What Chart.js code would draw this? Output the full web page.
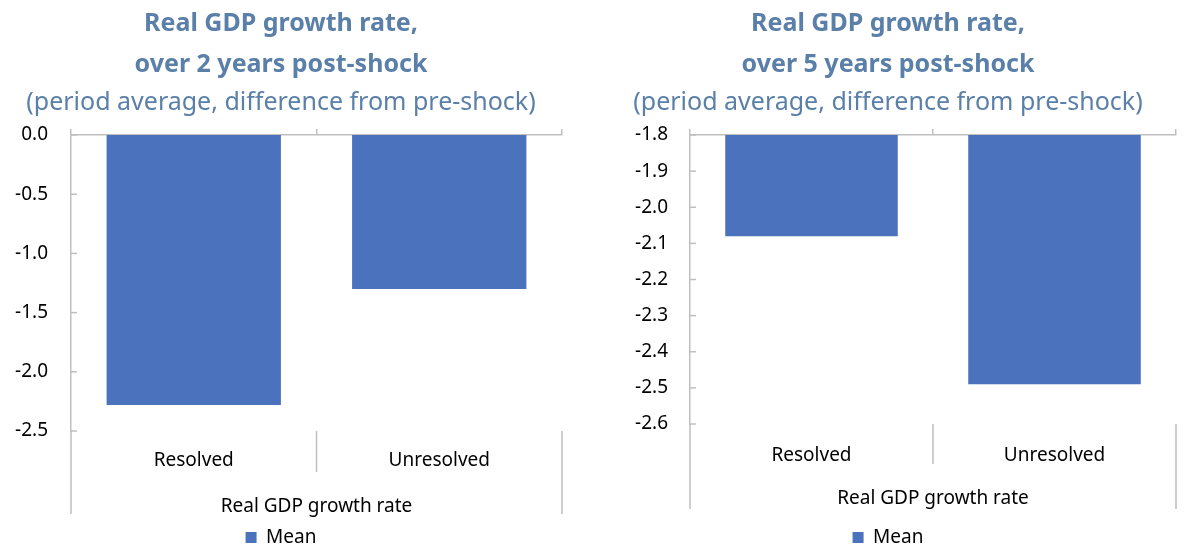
<!DOCTYPE html>
<html>
<head>
<meta charset="utf-8">
<script src="https://cdn.jsdelivr.net/npm/chart.js@4"></script>
<style>
  body { margin: 0; background: #fff; }
  .row { display: flex; width: 1200px; height: 554px; }
  .box { width: 600px; height: 554px; position: relative; }
</style>
</head>
<body>
<div class="row">
  <div class="box"><canvas id="chartLeft"></canvas></div>
  <div class="box"><canvas id="chartRight"></canvas></div>
</div>
<script>
const categories = ["Resolved", "Unresolved"];
const groupLabel = "Real GDP growth rate";
const seriesName = "Mean";
const twoYearValues = [-2.28, -1.30];
const fiveYearValues = [-2.08, -2.49];
const twoYearAxis = [-2.5, 0.0, 0.5];   // min, max, step
const fiveYearAxis = [-2.6, -1.8, 0.1];
const subtitleText = "(period average, difference from pre-shock)";

const barColor = "#4a72bd";
const titleColor = "#5a7fa8";
const axisColor = "#bfbfbf";
const fontFamily = "'Noto Sans', 'Open Sans', sans-serif";

const decorPlugin = {
  id: "decor",
  afterDraw(chart, args, opts) {
    const { ctx, chartArea } = chart;
    const x = chart.scales.x;
    const y = chart.scales.y;
    const b = chartArea.bottom;
    ctx.save();
    ctx.strokeStyle = axisColor;
    ctx.lineWidth = 1.5;
    // small inside tick marks on the value axis
    y.ticks.forEach((t, i) => {
      const py = y.getPixelForTick(i);
      ctx.beginPath();
      ctx.moveTo(chartArea.left, py);
      ctx.lineTo(chartArea.left + 6, py);
      ctx.stroke();
    });
    // category dividers below the plot
    const mid = (x.getPixelForValue(0) + x.getPixelForValue(1)) / 2;
    ctx.beginPath();
    ctx.moveTo(mid, b);
    ctx.lineTo(mid, b + opts.midLen);
    ctx.moveTo(chartArea.left, b);
    ctx.lineTo(chartArea.left, b + opts.outerLen);
    ctx.moveTo(chartArea.right, b);
    ctx.lineTo(chartArea.right, b + opts.outerLen);
    ctx.stroke();
    // group label
    ctx.fillStyle = "#000";
    ctx.font = "19px " + fontFamily;
    ctx.textAlign = "center";
    ctx.textBaseline = "middle";
    ctx.fillText(groupLabel, (chartArea.left + chartArea.right) / 2, b + opts.groupOffset);
    ctx.restore();
  }
};

function makeChart(id, titleLines, values, axis, lay) {
  const ctx = document.getElementById(id).getContext("2d");
  return new Chart(ctx, {
    type: "bar",
    data: {
      labels: categories,
      datasets: [{
        label: seriesName,
        data: values,
        backgroundColor: barColor,
        barPercentage: 0.71,
        categoryPercentage: 1.0
      }]
    },
    options: {
      responsive: true,
      maintainAspectRatio: false,
      animation: false,
      layout: { padding: { left: 0, right: lay.right, top: 0, bottom: -3 } },
      plugins: {
        title: {
          display: true,
          text: titleLines,
          color: titleColor,
          font: { family: fontFamily, size: 25, weight: "bold", lineHeight: 1.62 },
          padding: { top: 4, bottom: 0 }
        },
        subtitle: {
          display: true,
          text: subtitleText,
          color: titleColor,
          font: { family: fontFamily, size: 25, weight: "normal", lineHeight: 1.4 },
          padding: { top: 0, bottom: 0 }
        },
        legend: {
          position: "bottom",
          labels: {
            boxWidth: 11,
            boxHeight: 11,
            color: "#000",
            padding: 0,
            font: { family: fontFamily, size: 19 }
          }
        },
        tooltip: { enabled: false },
        decor: lay.decor
      },
      scales: {
        x: {
          position: "bottom",
          grid: { display: false, drawTicks: false },
          border: { display: false },
          ticks: { color: "#000", padding: lay.labelPad, font: { family: fontFamily, size: 19 } },
          afterFit: (s) => { s.height = lay.xHeight; }
        },
        x2: {
          type: "category",
          position: "top",
          offset: true,
          grid: { display: true, offset: true, drawOnChartArea: false, drawTicks: true, tickLength: 6, color: axisColor, lineWidth: 1.5 },
          border: { display: true, color: axisColor, width: 1.5 },
          ticks: { display: false },
          afterFit: (s) => { s.height = 15; }
        },
        y: {
          min: axis[0],
          max: axis[1],
          ticks: {
            stepSize: axis[2],
            color: "#000",
            padding: lay.yPad,
            font: { family: fontFamily, size: 19 },
            callback: (v) => Number(v).toFixed(1)
          },
          grid: { display: false, drawTicks: false },
          border: { display: true, color: axisColor, width: 1.5 },
          afterFit: (s) => { s.width = lay.yWidth; }
        }
      }
    },
    plugins: [decorPlugin]
  });
}

makeChart("chartLeft", ["Real GDP growth rate,", "over 2 years post-shock"], twoYearValues, twoYearAxis, {
  right: 38, xHeight: 97, labelPad: 18, yPad: 23, yWidth: 71,
  decor: { midLen: 41, outerLen: 83, groupOffset: 76 }
});
makeChart("chartRight", ["Real GDP growth rate,", "over 5 years post-shock"], fiveYearValues, fiveYearAxis, {
  right: 24, xHeight: 104, labelPad: 20, yPad: 22, yWidth: 90,
  decor: { midLen: 40, outerLen: 85, groupOffset: 75 }
});
</script>
</body>
</html>
